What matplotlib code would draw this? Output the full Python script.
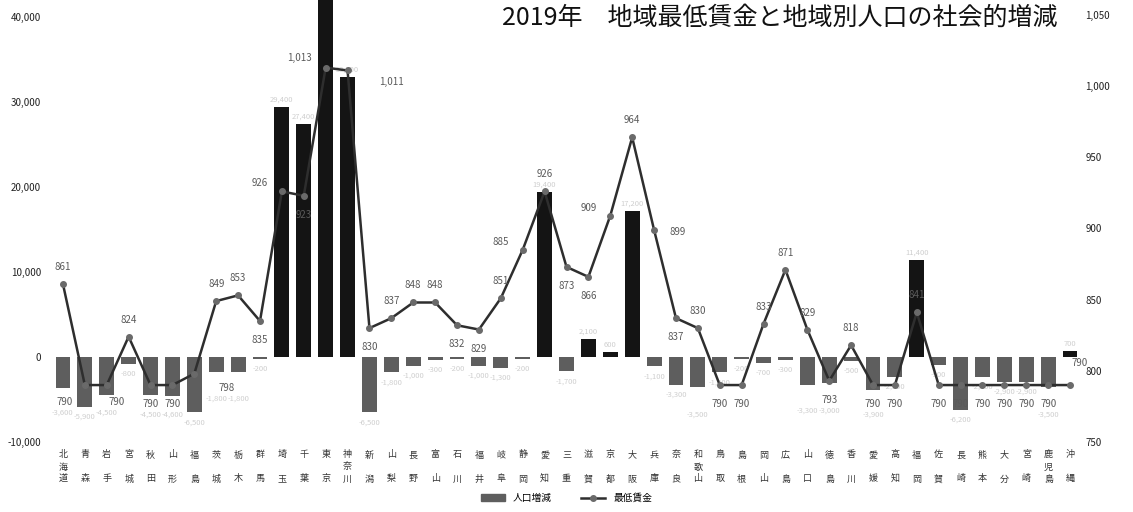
import matplotlib
matplotlib.use("Agg")
import matplotlib.pyplot as plt
import matplotlib.transforms as mtransforms
from matplotlib.patches import Patch
from matplotlib.lines import Line2D
import numpy as np

plt.rcParams['font.family'] = ['Noto Sans CJK JP', 'DejaVu Sans']
plt.rcParams['axes.unicode_minus'] = False

# 都道府県（地方ブロック順）
prefs = ['北海道', '青森', '岩手', '宮城', '秋田', '山形', '福島',
         '茨城', '栃木', '群馬', '埼玉', '千葉', '東京', '神奈川',
         '新潟', '山梨', '長野', '富山', '石川', '福井',
         '岐阜', '静岡', '愛知', '三重',
         '滋賀', '京都', '大阪', '兵庫', '奈良', '和歌山',
         '鳥取', '島根', '岡山', '広島', '山口',
         '徳島', '香川', '愛媛', '高知',
         '福岡', '佐賀', '長崎', '熊本', '大分', '宮崎', '鹿児島', '沖縄']

# 2019年 地域別最低賃金（円）
wage = [861, 790, 790, 824, 790, 790, 798,
        849, 853, 835, 926, 923, 1013, 1011,
        830, 837, 848, 848, 832, 829,
        851, 885, 926, 873,
        866, 909, 964, 899, 837, 830,
        790, 790, 833, 871, 829,
        793, 818, 790, 790,
        841, 790, 790, 790, 790, 790, 790, 790]

# 人口の社会的増減（人）
social = [-3600, -5900, -4500, -800, -4500, -4600, -6500,
          -1800, -1800, -200, 29400, 27400, 82000, 33000,
          -6500, -1800, -1000, -300, -200, -1000,
          -1300, -200, 19400, -1700,
          2100, 600, 17200, -1100, -3300, -3500,
          -1800, -200, -700, -300, -3300,
          -3000, -500, -3900, -2300,
          11400, -900, -6200, -2300, -2900, -2900, -3500, 700]

x = np.arange(len(prefs))

fig = plt.figure(figsize=(11.33, 5.12), dpi=100)
ax = fig.add_axes([52 / 1133, 1 - 442 / 512, 1029 / 1133, 442 / 512])
ax2 = ax.twinx()

# 棒：社会増減
bar_colors = ['#141414' if v > 0 else '#5e5e5e' for v in social]
ax.bar(x, social, width=0.68, color=bar_colors, zorder=2)
ax.set_xlim(-0.5, len(prefs) - 0.5)
ax.set_ylim(-10000, 42000)
ax.set_yticks(np.arange(-10000, 40001, 10000))
ax.set_yticklabels([f'{v:,}' for v in range(-10000, 40001, 10000)])
ax.set_xticks([])

# 折れ線：最低賃金
ax2.plot(x, wage, color='#2e2e2e', lw=1.8, marker='o', ms=4,
         mfc='#6a6a6a', mec='#6a6a6a', zorder=5)
ax2.set_ylim(750, 1060.5)
ax2.set_yticks([750, 800, 850, 900, 950, 1000, 1050])
ax2.set_yticklabels(['750', '800', '850', '900', '950', '1,000', '1,050'])

offsets = {'a': (0, 17), 'b': (0, -19), 'l': (-22, 8), 'r': (24, -2),
           'bl': (-20, -17), 'br': (10, -17), 'br2': (32, -14),
           'al': (-26, 10), 'rr': (44, -12), 'ar': (10, 22)}
place = ['a', 'bl', 'br', 'a', 'b', 'b', 'br2',
         'a', 'a', 'b', 'l', 'b', 'al', 'rr',
         'b', 'a', 'a', 'a', 'b', 'b',
         'a', 'l', 'a', 'b',
         'b', 'l', 'a', 'r', 'b', 'a',
         'b', 'b', 'a', 'a', 'a',
         'b', 'a', 'b', 'b',
         'a', 'b', 'b', 'b', 'b', 'b', 'b', 'ar']
label_pos = []
for xi, v, p in zip(x, wage, place):
    ax2.annotate(f'{v:,}', (xi, v), textcoords='offset pixels',
                 xytext=offsets[p], ha='center', va='center',
                 fontsize=7, color='#5a5a5a', zorder=6)
    px, py = ax2.transData.transform((xi, v))
    label_pos.append((px + offsets[p][0], py + offsets[p][1]))

# 棒の値（薄く）：折れ線のラベルと重なる場合は下へずらす
for xi, v in zip(x, social):
    dy = -10 if v < 0 else 7
    bx, by = ax.transData.transform((xi, v))
    if v < 0:
        for _ in range(3):
            for lx, ly in label_pos:
                if abs(bx - lx) < 24 and abs(by + dy - ly) < 11:
                    dy = ly - 11 - by
    ax.annotate(f'{v:,}', (xi, v), textcoords='offset pixels',
                xytext=(0, dy), ha='center', va='center',
                fontsize=5.5, color='#cfcfcf', zorder=3)

for a in (ax, ax2):
    for s in a.spines.values():
        s.set_visible(False)
    a.tick_params(length=0, labelsize=7, colors='#222222')
ax.tick_params(axis='y', pad=8)
ax2.tick_params(axis='y', pad=3)

# 縦書きの都道府県名
trans = mtransforms.blended_transform_factory(ax.transData, fig.transFigure)
for xi, name in zip(x, prefs):
    if len(name) == 2:
        rows = [455, 479]
    else:
        rows = [455, 467, 479]
    for ch, ypx in zip(name, rows):
        ax.text(xi, 1 - ypx / 512, ch, transform=trans, ha='center',
                va='center', fontsize=6.5, color='#333333', clip_on=False)

fig.text(1058 / 1133, 1 - 18 / 512, '2019年　地域最低賃金と地域別人口の社会的増減',
         ha='right', va='center', fontsize=18, color='#111111')

handles = [Patch(color='#5e5e5e', label='人口増減'),
           Line2D([0], [0], color='#2e2e2e', lw=1.8, marker='o', ms=4,
                  mfc='#6a6a6a', mec='#6a6a6a', label='最低賃金')]
fig.legend(handles=handles, loc='lower center', bbox_to_anchor=(0.5, 0.0),
           ncol=2, frameon=False, fontsize=7, handlelength=2.5,
           columnspacing=3)

fig.savefig('out.png', dpi=100, facecolor='white')
